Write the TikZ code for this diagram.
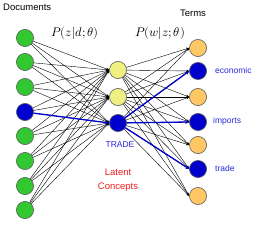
\documentclass[tikz,border=0pt]{standalone}
\usepackage{fontspec}
\setmainfont{Liberation Sans}
\usepackage{unicode-math}
\setmathfont{Latin Modern Math}
\usetikzlibrary{arrows.meta}
\definecolor{gfill}{RGB}{50,200,50}
\definecolor{yfill}{RGB}{240,240,130}
\definecolor{ofill}{RGB}{255,200,100}
\definecolor{bfill}{RGB}{0,0,205}
\definecolor{lblue}{RGB}{40,40,220}
\definecolor{lred}{RGB}{240,30,30}
\begin{document}
\begin{tikzpicture}[x=1pt,y=-1pt,
  unit/.style={circle,draw=black!60,line width=0.5pt,minimum size=17pt,inner sep=0pt},
  doc/.style={unit,fill=gfill},
  lat/.style={unit,fill=yfill},
  term/.style={unit,fill=ofill},
  hot/.style={unit,fill=bfill},
  edge/.style={-{Stealth[length=3pt,width=2.5pt]},line width=0.4pt,black},
  hedge/.style={-{Stealth[length=4pt,width=3.5pt]},line width=1.3pt,bfill},
  lab/.style={font=\fontsize{8.5}{9.5}\selectfont,inner sep=0pt}]
\useasboundingbox (0,0) rectangle (259,227);
% documents
\foreach \y [count=\i] in {38,62,87,112,136,161,186,210}{
  \ifnum\i=4 \node[hot] (l\i) at (25,\y) {}; \else \node[doc] (l\i) at (25,\y) {}; \fi
}
% latent
\node[lat] (m1) at (118,70) {};
\node[lat] (m2) at (118,97) {};
\node[hot] (m3) at (118,123) {};
% terms
\foreach \y [count=\i] in {48,71,97,122,145,169,196}{
  \ifnum\i=2 \node[hot] (r\i) at (198,\y) {};
  \else\ifnum\i=4 \node[hot] (r\i) at (198,\y) {};
  \else\ifnum\i=6 \node[hot] (r\i) at (198,\y) {};
  \else \node[term] (r\i) at (198,\y) {};\fi\fi\fi
}
% edges
\foreach \i in {1,...,8}{\foreach \j in {1,2,3}{\draw[edge] (l\i) -- (m\j.west);}}
\foreach \j in {1,2,3}{\foreach \k in {1,...,7}{\draw[edge] (m\j) -- (r\k.west);}}
\draw[hedge] (l4) -- (m3.west);
\draw[hedge] (m3) -- (r2.west);
\draw[hedge] (m3) -- (r4.west);
\draw[hedge] (m3) -- (r6.west);
% redraw nodes on top
\foreach \n in {l1,l2,l3,l5,l6,l7,l8}{\node[doc] at (\n) {};}
\node[hot] at (l4) {};
\node[lat] at (m1) {};
\node[lat] at (m2) {};
\node[hot] at (m3) {};
\foreach \n in {r1,r3,r5,r7}{\node[term] at (\n) {};}
\foreach \n in {r2,r4,r6}{\node[hot] at (\n) {};}
% labels
\node[lab,anchor=west,font=\fontsize{9.5}{10.5}\selectfont] (tdoc) at (3,7) {Documents};
\node[lab,font=\fontsize{9.5}{10.5}\selectfont] (tterm) at (193,13) {Terms};
\node[inner sep=0pt,font=\fontsize{12.5}{13}\selectfont] (pz) at (75,33) {$P(z|d;\theta)$};
\node[inner sep=0pt,font=\fontsize{12.5}{13}\selectfont] (pw) at (160,33) {$P(w|z;\theta)$};
\node[lab,text=lblue,anchor=west] (teco) at (215,70) {economic};
\node[lab,text=lblue,anchor=west] (timp) at (213,121) {imports};
\node[lab,text=lblue,anchor=west] (ttra) at (215,168) {trade};
\node[lab,text=lblue] (ttrade) at (120,145) {TRADE};
\node[lab,text=lred,align=center,font=\fontsize{9.5}{14}\selectfont] (tlat) at (118,180) {Latent\\Concepts};
\end{tikzpicture}
\end{document}
